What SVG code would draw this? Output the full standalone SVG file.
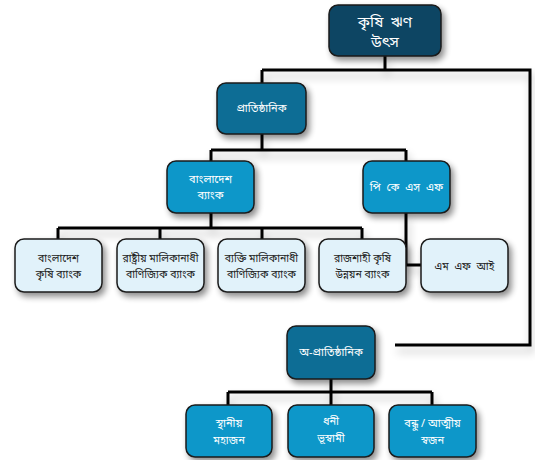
<svg xmlns="http://www.w3.org/2000/svg" width="535" height="460" viewBox="0 0 535 460">
<defs>
<filter id="sh" x="-30%" y="-30%" width="170%" height="170%">
<feGaussianBlur in="SourceAlpha" stdDeviation="3"/>
<feOffset dx="3" dy="4" result="b"/>
<feComponentTransfer><feFuncA type="linear" slope="0.45"/></feComponentTransfer>
<feMerge><feMergeNode/><feMergeNode in="SourceGraphic"/></feMerge>
</filter>
<filter id="lsh" x="-10%" y="-50%" width="120%" height="300%">
<feGaussianBlur in="SourceAlpha" stdDeviation="4"/>
<feOffset dx="2" dy="6" result="b"/>
<feComponentTransfer><feFuncA type="linear" slope="0.25"/></feComponentTransfer>
<feMerge><feMergeNode/><feMergeNode in="SourceGraphic"/></feMerge>
</filter>
</defs>
<style>
.box rect{stroke:#1a1a1a;stroke-width:1.5;filter:url(#sh)}
.root rect{fill:#0c4564}
.inst rect{fill:#0a6d95}
.blue rect{fill:#0a97c9}
.leaf rect{fill:#e1f2fa}
text{font-family:"Noto Sans Bengali","Noto Sans","DejaVu Sans",sans-serif;font-size:10.5px;text-anchor:middle}
.dark text{fill:#ffffff;font-size:11px}
.leaf text{fill:#222222}
.root text{font-size:15px}
.wide{word-spacing:3px}
#conn path{fill:none;stroke:#000;stroke-width:3}
</style>
<rect width="535" height="460" fill="#ffffff"/>
<g id="conn" filter="url(#lsh)">
<path d="M385 55V70M262 70H530V345H395M262 70V84"/>
<path d="M262 134V150M211 150H406M211 150V162M406 150V162"/>
<path d="M211 213V228M58 228H362M58 228V240M160 228V240M262 228V240M362 228V240"/>
<path d="M406 213V265H422"/>
<path d="M331 379V392M228 392H432M228 392V406M331 392V406M432 392V406"/>
</g>
<g id="n-root" class="box root dark"><rect x="329" y="5" width="112" height="51" rx="9"/><text x="385" y="27" class="wide">কৃষি ঋণ</text><text x="385" y="47">উৎস</text></g>
<g id="n-inst" class="box inst dark"><rect x="217" y="83" width="89" height="51" rx="9"/><text x="261.5" y="112">প্রাতিষ্ঠানিক</text></g>
<g id="n-bb" class="box blue dark"><rect x="167" y="161" width="87" height="52" rx="9"/><text x="210.5" y="183">বাংলাদেশ</text><text x="210.5" y="199">ব্যাংক</text></g>
<g id="n-pksf" class="box blue dark"><rect x="363" y="161" width="87" height="52" rx="9"/><text x="406.5" y="191" class="wide">পি কে এস এফ</text></g>
<g id="n-bkb" class="box leaf"><rect x="15" y="239" width="87" height="53" rx="9"/><text x="58.5" y="262">বাংলাদেশ</text><text x="58.5" y="278">কৃষি ব্যাংক</text></g>
<g id="n-socb" class="box leaf"><rect x="117" y="239" width="87" height="53" rx="9"/><text x="160.5" y="262">রাষ্ট্রীয় মালিকানাধী</text><text x="160.5" y="278">বাণিজ্যিক ব্যাংক</text></g>
<g id="n-pcb" class="box leaf"><rect x="218" y="239" width="87" height="53" rx="9"/><text x="261.5" y="262">ব্যক্তি মালিকানাধী</text><text x="261.5" y="278">বাণিজ্যিক ব্যাংক</text></g>
<g id="n-rakub" class="box leaf"><rect x="319" y="239" width="87" height="53" rx="9"/><text x="362.5" y="262">রাজশাহী কৃষি</text><text x="362.5" y="278">উন্নয়ন ব্যাংক</text></g>
<g id="n-mfi" class="box leaf"><rect x="421" y="239" width="87" height="53" rx="9"/><text x="464.5" y="270" class="wide">এম এফ আই</text></g>
<g id="n-noninst" class="box inst dark"><rect x="287" y="326" width="88" height="53" rx="9"/><text x="331" y="356">অ-প্রাতিষ্ঠানিক</text></g>
<g id="n-mahajan" class="box blue dark"><rect x="186" y="405" width="86" height="52" rx="9"/><text x="229" y="427">স্থানীয়</text><text x="229" y="444">মহাজন</text></g>
<g id="n-landlord" class="box blue dark"><rect x="288" y="405" width="86" height="52" rx="9"/><text x="331" y="425">ধনী</text><text x="331" y="442">ভূস্বামী</text></g>
<g id="n-relatives" class="box blue dark"><rect x="389" y="405" width="87" height="52" rx="9"/><text x="432.5" y="427">বন্ধু / আত্মীয়</text><text x="432.5" y="444">স্বজন</text></g>
</svg>
